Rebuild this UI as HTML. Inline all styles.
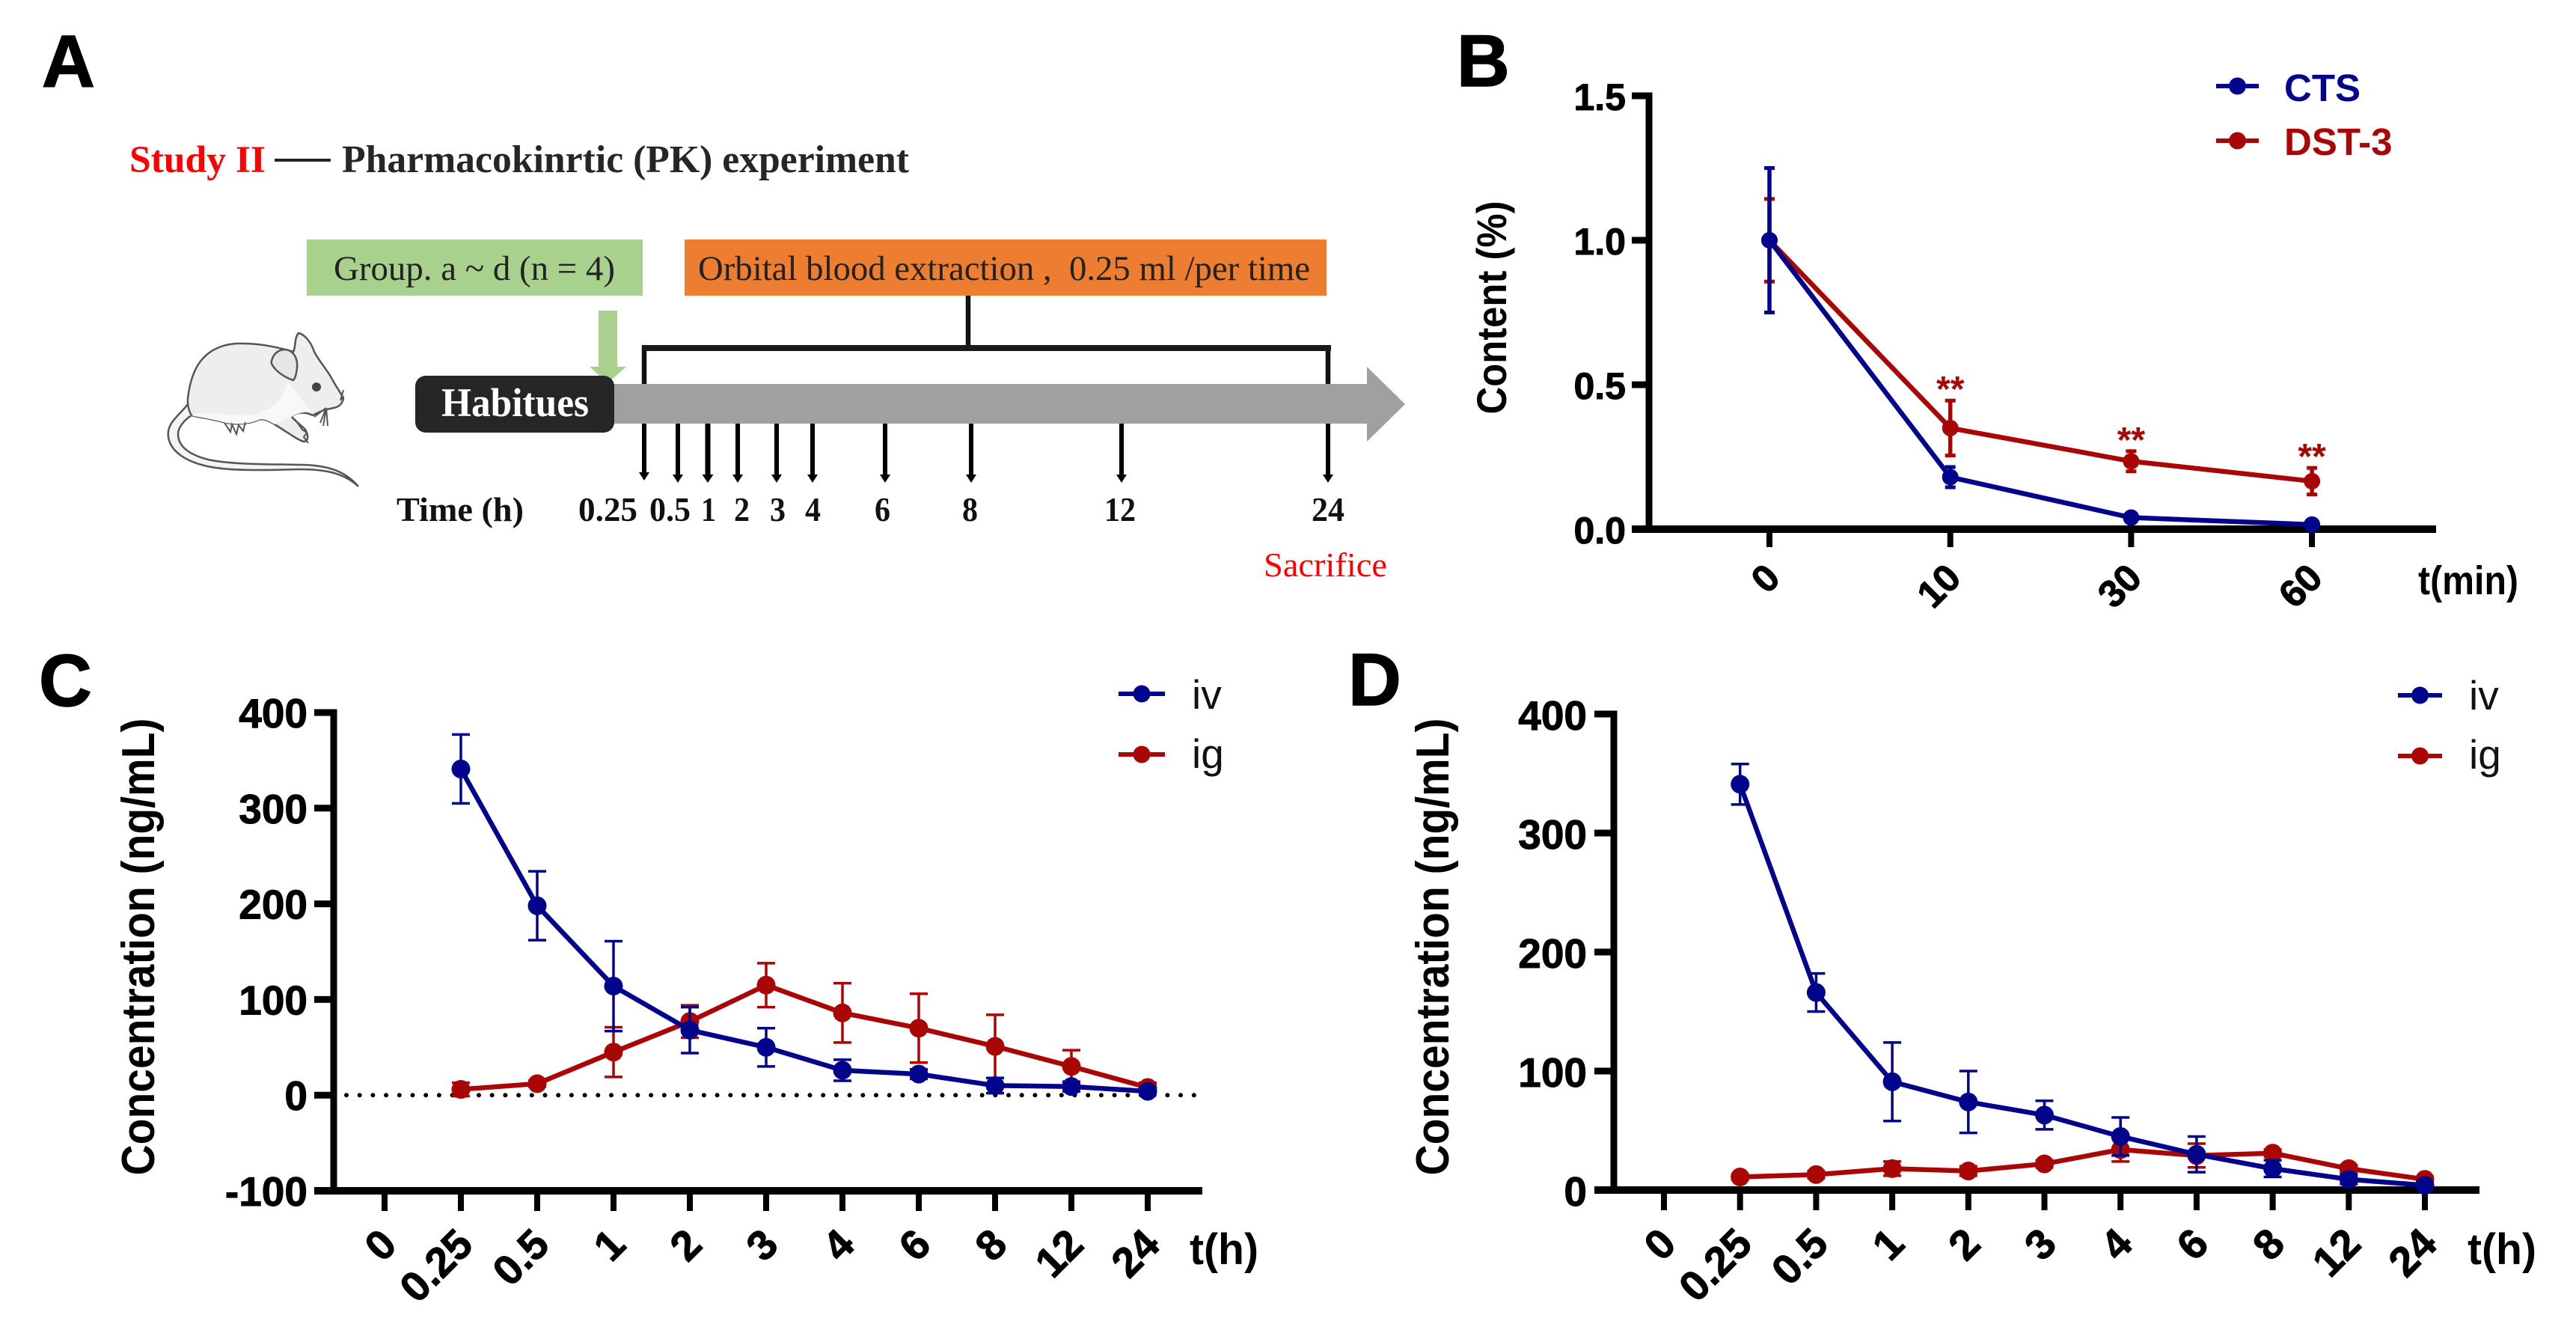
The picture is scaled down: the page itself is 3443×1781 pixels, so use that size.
<!DOCTYPE html>
<html lang="en">
<head>
<meta charset="utf-8">
<title>Pharmacokinetic experiment figure</title>
<style>
  html, body { margin: 0; padding: 0; background: #fff; }
  svg { display: block; }
  text { font-family: "Liberation Sans", Arial, sans-serif; white-space: pre; }
  .serif { font-family: "Liberation Serif", "Times New Roman", serif; }
  .letter { font-weight: bold; font-size: 98px; fill: #000; stroke: #000; stroke-width: 1.5px; }
</style>
</head>
<body>
<svg id="figure" xmlns="http://www.w3.org/2000/svg" width="3443" height="1781" viewBox="0 0 3443 1781">
  <rect x="0" y="0" width="3443" height="1781" fill="#ffffff"/>

  <!-- Panel letters -->
  <text class="letter" x="56" y="116">A</text>
  <text class="letter" x="1947" y="115">B</text>
  <text class="letter" x="52" y="943">C</text>
  <text class="letter" x="1802" y="942">D</text>

  <!-- Panel A: study schematic -->
  <g id="panel-a">
    <text class="serif" x="173" y="230" font-size="51" font-weight="bold" fill="#ff0000" textLength="182" lengthAdjust="spacingAndGlyphs">Study II</text>
    <rect x="367" y="212" width="75" height="4" fill="#222"/>
    <text class="serif" x="457" y="230" font-size="52" font-weight="bold" fill="#262626" textLength="758" lengthAdjust="spacingAndGlyphs">Pharmacokinrtic (PK) experiment</text>

    <rect x="410" y="320" width="449" height="75" fill="#a9d18e"/>
    <text class="serif" x="446" y="374" font-size="47" fill="#222" textLength="376" lengthAdjust="spacingAndGlyphs">Group. a ~ d (n = 4)</text>
    <rect x="915" y="320" width="858" height="75" fill="#ed7d31"/>
    <text class="serif" x="933" y="374" font-size="47" fill="#222" textLength="818" lengthAdjust="spacingAndGlyphs">Orbital blood extraction ,  0.25 ml /per time</text>

    <polygon points="800,415 825,415 825,490 837,490 812,512 788,490 800,490" fill="#a9d18e"/>

    <polygon points="815,513 1827,513 1827,490 1878,540 1827,590 1827,566 815,566" fill="#a0a0a0"/>
    <path d="M1294 395V465M861 462V513M1775 462V513" fill="none" stroke="#111" stroke-width="6.5"/>
    <rect x="858" y="461" width="921" height="8" fill="#1a1a1a"/>

    <rect x="555" y="502" width="266" height="76" rx="14" ry="14" fill="#262626"/>
    <text class="serif" x="590" y="556" font-size="54" font-weight="bold" fill="#ffffff" textLength="197" lengthAdjust="spacingAndGlyphs">Habitues</text>

    <g fill="#000">
      <path d="M858 566h6v65h4l-7 11-7-11h4z"/>
      <path d="M903 566h6v68h4l-7 11-7-11h4z"/>
      <path d="M942.5 566h7v68h4l-7.5 11-7.5-11h4z"/>
      <path d="M983 566h6v68h4l-7 11-7-11h4z"/>
      <path d="M1035 566h6v68h4l-7 11-7-11h4z"/>
      <path d="M1083 566h6v68h4l-7 11-7-11h4z"/>
      <path d="M1180 566h6v68h4l-7 11-7-11h4z"/>
      <path d="M1295 566h6v68h4l-7 11-7-11h4z"/>
      <path d="M1496 566h6v68h4l-7 11-7-11h4z"/>
      <path d="M1772 566h6v68h4l-7 11-7-11h4z"/>
    </g>

    <g class="serif" font-size="45" font-weight="bold" fill="#111">
      <text class="serif" x="530" y="696" textLength="170" lengthAdjust="spacingAndGlyphs">Time (h)</text>
      <text class="serif" x="773" y="696" textLength="79" lengthAdjust="spacingAndGlyphs">0.25</text>
      <text class="serif" x="868" y="696" textLength="55" lengthAdjust="spacingAndGlyphs">0.5</text>
      <text class="serif" x="937" y="696" textLength="20" lengthAdjust="spacingAndGlyphs">1</text>
      <text class="serif" x="981" y="696" textLength="21" lengthAdjust="spacingAndGlyphs">2</text>
      <text class="serif" x="1029" y="696" textLength="21" lengthAdjust="spacingAndGlyphs">3</text>
      <text class="serif" x="1076" y="696" textLength="21" lengthAdjust="spacingAndGlyphs">4</text>
      <text class="serif" x="1169" y="696" textLength="21" lengthAdjust="spacingAndGlyphs">6</text>
      <text class="serif" x="1286" y="696" textLength="21" lengthAdjust="spacingAndGlyphs">8</text>
      <text class="serif" x="1476" y="696" textLength="42" lengthAdjust="spacingAndGlyphs">12</text>
      <text class="serif" x="1753" y="696" textLength="44" lengthAdjust="spacingAndGlyphs">24</text>
    </g>
    <text class="serif" x="1689" y="770" font-size="46" fill="#ff0000" textLength="165" lengthAdjust="spacingAndGlyphs">Sacrifice</text>

    <!-- Mouse illustration -->
    <g>
      <path d="M251 540C240 555 222 565 225 584C228 604 250 617 277 623C310 630 360 628 400 627C435 627 460 632 479 650C462 630 440 622 405 621C360 620 310 621 278 614C255 608 238 598 238 580C238 570 248 560 256 555Z" fill="#f4f4f4" stroke="#555" stroke-width="2.5"/>
      <path d="M399 445C408 447 416 458 420 470C428 485 438 495 443 505C450 518 456 526 459 532C458 540 452 544 446 545C436 547 428 549 418 555C404 548 392 553 390 557C398 566 405 570 408 574C413 582 412 590 406 590C398 588 385 578 367 567C358 561 352 560 348 560C335 566 320 568 302 565C285 560 268 558 256 555C250 545 250 535 252 525C255 505 262 488 272 478C285 464 305 458 325 459C345 459 365 462 392 470C396 462 393 452 399 445Z" fill="#eeeeee" stroke="#555" stroke-width="2.5"/>
      <path d="M256 555C270 548 300 555 330 555C360 552 380 535 384 510C395 520 405 540 418 550C405 550 395 553 390 557C380 560 372 565 367 567C358 561 352 560 348 560C335 566 320 568 302 565C285 560 268 558 256 555Z" fill="#f8f8f8"/>
      <path d="M363 482C366 470 376 465 386 468C394 472 398 480 397 492C396 500 394 506 392 508C382 505 372 498 367 492C364 488 362 486 363 482Z" fill="#e6e6e6" stroke="#555" stroke-width="2.5"/>
      <circle cx="423" cy="517" r="6" fill="#444"/>
      <path d="M300 565l8 12 2-10 6 13 3-12 6 8 3-12M394 560l10 14 6 4-4 6 6 8M436 545l-8 20M436 545l-4 24M436 545l2 24M436 545l-16 12M455 535l4-14M455 535l4-6" fill="none" stroke="#555" stroke-width="2"/>
    </g>
  </g>

  <g id="chart-layer"></g>
</svg>

<script>
// ---------- Panel B data ----------
const bCategories = ['0', '10', '30', '60'];
const bYTicks = [0, 0.5, 1, 1.5];
const bYTickLabels = ['0.0', '0.5', '1.0', '1.5'];
const bCts = [1.0, 0.18, 0.04, 0.016];
const bCtsErr = [0.25, 0.035, 0.006, 0.005];
const bDst = [1.0, 0.35, 0.235, 0.166];
const bDstErr = [0.143, 0.095, 0.035, 0.046];
const bStars = ['', '**', '**', '**'];
const bSeriesNames = ['CTS', 'DST-3'];

// ---------- Panel C data ----------
const cCategories = ['0', '0.25', '0.5', '1', '2', '3', '4', '6', '8', '12', '24'];
const cYTicks = [-100, 0, 100, 200, 300, 400];
const cYTickLabels = ['-100', '0', '100', '200', '300', '400'];
const cIv = [null, 341, 198, 114, 68, 50, 26, 22, 10, 9, 4];
const cIvErr = [null, 36, 36, 47, 24, 20, 11, 5, 8, 5, 2];
const cIg = [null, 6, 12, 45, 77, 115, 86, 70, 51, 30, 8];
const cIgErr = [null, 7, 3, 26, 17, 23, 31, 36, 33, 17, 5];

// ---------- Panel D data ----------
const dCategories = ['0', '0.25', '0.5', '1', '2', '3', '4', '6', '8', '12', '24'];
const dYTicks = [0, 100, 200, 300, 400];
const dYTickLabels = ['0', '100', '200', '300', '400'];
const dIv = [null, 341, 166, 91, 74, 63, 45, 30, 18, 9, 4];
const dIvErr = [null, 17, 16, 33, 26, 12, 16, 15, 7, 4, 1];
const dIg = [null, 11, 13, 18, 16, 22, 34, 29, 31, 18, 9];
const dIgErr = [null, 2, 3, 6, 4, 3, 10, 10, 3, 3, 2];
const pkSeriesNames = ['iv', 'ig'];

const BLUE = '#00058c';
const RED = '#a90606';
const SVG_NS = 'http://www.w3.org/2000/svg';
const layer = document.getElementById('chart-layer');

function add(parent, tag, attrs, content) {
  const node = document.createElementNS(SVG_NS, tag);
  Object.keys(attrs).forEach(function (key) { node.setAttribute(key, attrs[key]); });
  if (content !== undefined) node.textContent = content;
  parent.appendChild(node);
  return node;
}

function drawAxes(root, g) {
  const xAxis = add(root, 'line', { x1: g.tickLeft, x2: g.axisRight, y1: g.axisY, y2: g.axisY, stroke: '#000', 'stroke-width': 10 });
  
  
  const yAxis = add(root, 'line', { x1: g.axisX, x2: g.axisX, y1: g.yTop - 4.5, y2: g.axisY + 4, stroke: '#000', 'stroke-width': 9 });
  
  

  g.yTicks.forEach(function (v, i) {
    const tick = add(root, 'line', { x1: g.tickLeft, x2: g.axisX, y1: g.y(v), y2: g.y(v), stroke: '#000', 'stroke-width': 9 });
    
    
    const label = add(root, 'text', { x: g.tickLeft - g.labelGap, y: g.y(v) + g.labelDrop, 'text-anchor': 'end', 'font-size': g.fontSize, 'font-weight': 'bold', fill: '#000', stroke: '#000', 'stroke-width': 1 }, g.yLabels[i]);
    
    
  });

  g.categories.forEach(function (c, i) {
    const tick = add(root, 'line', { x1: g.x(i), x2: g.x(i), y1: g.axisY, y2: g.tickBottom, stroke: '#000', 'stroke-width': 8 });
    
    
    const ax = g.x(i) + g.rotDx;
    const ay = g.axisY + g.rotDy;
    const label = add(root, 'text', { x: ax, y: ay, 'text-anchor': 'end', 'font-size': g.fontSize + 1, 'font-weight': 'bold', fill: '#000', stroke: '#000', 'stroke-width': 1, transform: 'rotate(-45 ' + ax + ' ' + ay + ')' }, c);
    
    
  });
}

function drawSeries(root, g, values, errors, color, name, style) {
  let points = '';
  values.forEach(function (v, i) {
    if (v !== null) points += g.x(i) + ',' + g.y(v) + ' ';
  });
  values.forEach(function (v, i) {
    if (v === null) return;
    const top = g.y(v + errors[i]);
    const bottom = g.y(v - errors[i]);
    const stem = add(root, 'line', { x1: g.x(i), x2: g.x(i), y1: top, y2: bottom, stroke: color, 'stroke-width': style.errWidth });
    
    
    const capTop = add(root, 'line', { x1: g.x(i) - style.cap, x2: g.x(i) + style.cap, y1: top, y2: top, stroke: color, 'stroke-width': style.capWidth });
    
    
    const capBottom = add(root, 'line', { x1: g.x(i) - style.cap, x2: g.x(i) + style.cap, y1: bottom, y2: bottom, stroke: color, 'stroke-width': style.capWidth });
    
    
  });
  const line = add(root, 'polyline', { points: points.trim(), fill: 'none', stroke: color, 'stroke-width': style.lineWidth, 'stroke-linejoin': 'round' });
  
  
  values.forEach(function (v, i) {
    if (v === null) return;
    const dot = add(root, 'circle', { cx: g.x(i), cy: g.y(v), r: style.radius, fill: color });
    
    
  });
}

function drawLegendEntry(root, x1, x2, y, color, textX, textY, label, fontSize, weight, name) {
  const line = add(root, 'line', { x1: x1, x2: x2, y1: y, y2: y, stroke: color, 'stroke-width': 6 });
  
  
  const dot = add(root, 'circle', { cx: (x1 + x2) / 2, cy: y, r: 11.5, fill: color });
  
  
  const text = add(root, 'text', { x: textX, y: textY, 'font-size': fontSize, 'font-weight': weight, fill: weight === 'bold' ? color : '#111' }, label);
  
  
}

function linearY(dataMin, dataMax, pixelBottom, pixelTop) {
  return function (v) { return pixelBottom + (v - dataMin) * (pixelTop - pixelBottom) / (dataMax - dataMin); };
}
function bandX(origin, step) {
  return function (i) { return origin + step * i; };
}

// ---------- Panel B ----------
const panelB = add(layer, 'g', {});


const geoB = {
  x: bandX(2365, 241.7), y: linearY(0, 1.5, 707, 128), axisX: 2204, axisY: 707, yTop: 128,
  tickLeft: 2181, axisRight: 3256, tickBottom: 731, categories: bCategories, yTicks: bYTicks, yLabels: bYTickLabels,
  labelGap: 8, labelDrop: 19, fontSize: 50, rotDx: 17, rotDy: 68
};
drawAxes(panelB, geoB);
const styleB = { errWidth: 5.5, capWidth: 5, cap: 7, lineWidth: 6.5, radius: 11 };
drawSeries(panelB, geoB, bDst, bDstErr, RED, 'dst-3', styleB);
drawSeries(panelB, geoB, bCts, bCtsErr, BLUE, 'cts', styleB);
bStars.forEach(function (s, i) {
  if (!s) return;
  const star = add(panelB, 'text', { x: geoB.x(i), y: geoB.y(bDst[i] + bDstErr[i]) + 1, 'text-anchor': 'middle', 'font-size': 48, 'font-weight': 'bold', fill: RED }, s);
  
  
});
const bYTitle = add(panelB, 'text', { x: 2013, y: 411, 'text-anchor': 'middle', 'font-size': 56, 'font-weight': 'bold', fill: '#000', transform: 'rotate(-90 2013 411)', textLength: 285, lengthAdjust: 'spacingAndGlyphs' }, 'Content (%)');


const bXTitle = add(panelB, 'text', { x: 3232, y: 794, 'font-size': 54, 'font-weight': 'bold', fill: '#000', textLength: 134, lengthAdjust: 'spacingAndGlyphs' }, 't(min)');


drawLegendEntry(panelB, 2962, 3019, 115, BLUE, 3053, 135, bSeriesNames[0], 51, 'bold', 'cts');
drawLegendEntry(panelB, 2962, 3019, 188, RED, 3053, 207, bSeriesNames[1], 51, 'bold', 'dst-3');

// ---------- Panel C ----------
const panelC = add(layer, 'g', {});


const geoC = {
  x: bandX(514, 102), y: linearY(-100, 400, 1591, 952), axisX: 446, axisY: 1591, yTop: 952,
  tickLeft: 420, axisRight: 1607, tickBottom: 1618, categories: cCategories, yTicks: cYTicks, yLabels: cYTickLabels,
  labelGap: 9, labelDrop: 20, fontSize: 55, rotDx: 19, rotDy: 75
};
drawAxes(panelC, geoC);
const zeroLine = add(panelC, 'line', { x1: 463, x2: 1600, y1: geoC.y(0), y2: geoC.y(0), stroke: '#000', 'stroke-width': 6, 'stroke-linecap': 'round', 'stroke-dasharray': '0 17.7' });


const stylePk = { errWidth: 3.5, capWidth: 3.5, cap: 12, lineWidth: 6.5, radius: 12.5 };
drawSeries(panelC, geoC, cIg, cIgErr, RED, 'ig', stylePk);
drawSeries(panelC, geoC, cIv, cIvErr, BLUE, 'iv', stylePk);
const cYTitle = add(panelC, 'text', { x: 206, y: 1265, 'text-anchor': 'middle', 'font-size': 62, 'font-weight': 'bold', fill: '#000', transform: 'rotate(-90 206 1265)', textLength: 611, lengthAdjust: 'spacingAndGlyphs' }, 'Concentration (ng/mL)');


const cXTitle = add(panelC, 'text', { x: 1590, y: 1689, 'font-size': 58, 'font-weight': 'bold', fill: '#000', textLength: 92, lengthAdjust: 'spacingAndGlyphs' }, 't(h)');


drawLegendEntry(panelC, 1495, 1557, 927, BLUE, 1593, 947, pkSeriesNames[0], 55, 'normal', 'iv');
drawLegendEntry(panelC, 1495, 1557, 1008, RED, 1593, 1026, pkSeriesNames[1], 55, 'normal', 'ig');

// ---------- Panel D ----------
const panelD = add(layer, 'g', {});


const geoD = {
  x: bandX(2224, 101.7), y: linearY(0, 400, 1590, 954), axisX: 2157, axisY: 1590, yTop: 954,
  tickLeft: 2131, axisRight: 3314, tickBottom: 1617, categories: dCategories, yTicks: dYTicks, yLabels: dYTickLabels,
  labelGap: 10, labelDrop: 21, fontSize: 55, rotDx: 19, rotDy: 75
};
drawAxes(panelD, geoD);
drawSeries(panelD, geoD, dIg, dIgErr, RED, 'ig', stylePk);
drawSeries(panelD, geoD, dIv, dIvErr, BLUE, 'iv', stylePk);
const dYTitle = add(panelD, 'text', { x: 1936, y: 1265, 'text-anchor': 'middle', 'font-size': 62, 'font-weight': 'bold', fill: '#000', transform: 'rotate(-90 1936 1265)', textLength: 611, lengthAdjust: 'spacingAndGlyphs' }, 'Concentration (ng/mL)');


const dXTitle = add(panelD, 'text', { x: 3298, y: 1689, 'font-size': 58, 'font-weight': 'bold', fill: '#000', textLength: 92, lengthAdjust: 'spacingAndGlyphs' }, 't(h)');


drawLegendEntry(panelD, 3205, 3264, 929, BLUE, 3300, 948, pkSeriesNames[0], 55, 'normal', 'iv');
drawLegendEntry(panelD, 3205, 3264, 1010, RED, 3300, 1027, pkSeriesNames[1], 55, 'normal', 'ig');
</script>
</body>
</html>
